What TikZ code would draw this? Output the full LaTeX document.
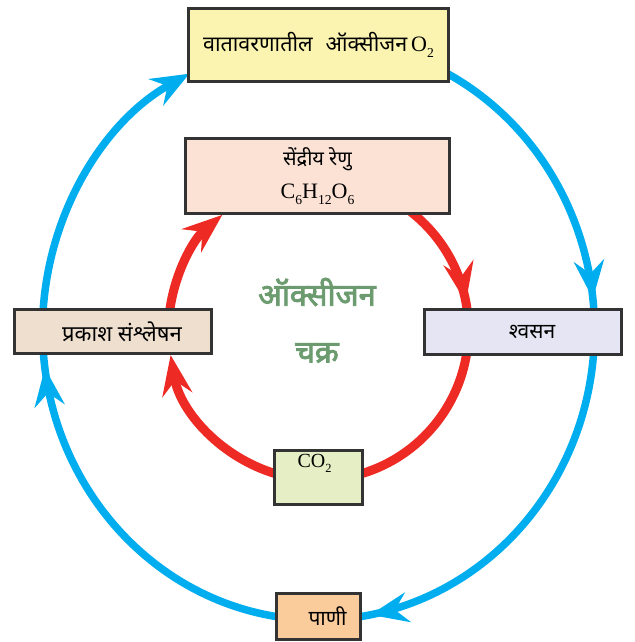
\documentclass[tikz,border=0pt]{standalone}
\usepackage{fontspec}
\usepackage{graphicx}
\setmainfont{Liberation Serif}
\newfontfamily\deva[Script=Devanagari]{Noto Sans}
\newfontfamily\devabold[Script=Devanagari, FakeBold=2.5]{Noto Sans}
\usetikzlibrary{arrows.meta,decorations.markings,backgrounds,calc}
\definecolor{cycblue}{HTML}{00AEEF}
\definecolor{cycred}{HTML}{EE2A24}
\definecolor{boxline}{HTML}{333333}
\definecolor{fillA}{HTML}{FBF4B0}
\definecolor{fillB}{HTML}{FCE1D5}
\definecolor{fillC}{HTML}{EEDFCF}
\definecolor{fillD}{HTML}{E5E5F3}
\definecolor{fillE}{HTML}{E5EEC5}
\definecolor{fillF}{HTML}{FACB9B}
\definecolor{greentxt}{HTML}{6B9B6E}
\newcommand\mysub[1]{\raisebox{-0.25em}{\scalebox{0.62}{#1}}}
\tikzset{
  cycbox/.style={draw=boxline, line width=3pt, inner sep=0pt, text=black},
  blueline/.style={draw=cycblue, line width=7.5pt},
  redline/.style={draw=cycred, line width=9pt},
  bluetip/.tip={Stealth[length=38pt,width=30pt,inset=13pt]},
  redtip/.tip={Stealth[length=40pt,width=30pt,inset=14pt]},
  bluemark/.style={postaction={decorate,decoration={markings,mark=at position #1 with {\arrow[cycblue]{bluetip}}}}},
  redmark/.style={postaction={decorate,decoration={markings,mark=at position #1 with {\arrow[cycred]{redtip}}}}}
}
\begin{document}
\begin{tikzpicture}[x=1pt,y=1pt]
\useasboundingbox (0,0) rectangle (634,642);
% boxes
\node[cycbox, fill=fillA, minimum width=260pt, minimum height=73pt] (air) at (318.5,597)
  {{\deva\fontsize{21.5}{24}\selectfont वातावरणातील\hspace{0.6em}ऑक्सीजन}\hspace{0.4em}{\fontsize{22}{24}\selectfont O\mysub{2}}};
\node[cycbox, fill=fillB, minimum width=264pt, minimum height=75pt, align=center] (org) at (317.5,466)
  {{\deva\fontsize{20}{22}\selectfont सेंद्रीय रेणु}\\[12pt]{\fontsize{22}{24}\selectfont C\mysub{6}H\mysub{12}O\mysub{6}}};
\node[cycbox, fill=fillC, minimum width=197pt, minimum height=44pt] (photo) at (113,310.5)
  {\hspace*{18pt}{\deva\fontsize{22}{24}\selectfont प्रकाश संश्लेषन}};
\node[cycbox, fill=fillD, minimum width=197pt, minimum height=45pt] (resp) at (523,310)
  {\hspace*{18pt}{\deva\fontsize{21}{24}\selectfont श्वसन}};
\node[cycbox, fill=fillE, minimum width=88pt, minimum height=54pt,
  label={[anchor=north, inner sep=0pt, yshift=-5pt, xshift=-4pt]north:{\fontsize{20}{22}\selectfont CO\mysub{2}}}] (co2) at (318.5,164.5) {};
\node[cycbox, fill=fillF, minimum width=84pt, minimum height=46pt] (water) at (318.5,25.5)
  {\hspace*{18pt}{\deva\fontsize{21}{24}\selectfont पाणी}};
% centre title
\node[text=greentxt, font=\devabold\fontsize{31}{34}\selectfont] (title1) at (317,350) {ऑक्सीजन};
\node[text=greentxt, font=\devabold\fontsize{31}{34}\selectfont] (title2) at (317,289) {चक्र};
% connectors
\coordinate (ctr) at (318.5,312);
\coordinate (bA) at ($(ctr)+(177:276pt and 290pt)$);
\coordinate (bB) at ($(ctr)+(62.8:276pt and 290pt)$);
\coordinate (bC) at ($(ctr)+(-3:276pt and 290pt)$);
\coordinate (bD) at ($(ctr)+(263:276pt and 290pt)$);
\coordinate (rA) at ($(ctr)+(173:150pt)$);
\coordinate (rB) at ($(ctr)+(52:150pt)$);
\coordinate (rC) at ($(ctr)+(-8:150pt)$);
\coordinate (rD) at ($(ctr)+(254:150pt)$);
\begin{scope}[on background layer]
\fill[white] (0,0) rectangle (634,642);
% blue cycle
\draw[blueline, -{bluetip}] (bA) arc[start angle=177, end angle=117.9, x radius=276pt, y radius=290pt];
\draw[blueline, bluemark=0.93] (bB) arc[start angle=62.8, end angle=2, x radius=276pt, y radius=290pt];
\draw[blueline, bluemark=0.965] (bC) arc[start angle=-3, end angle=-82, x radius=276pt, y radius=290pt];
\draw[blueline, bluemark=0.93] (bD) arc[start angle=263, end angle=182, x radius=276pt, y radius=290pt];
% red cycle
\draw[redline, -{redtip}] (rA) arc[start angle=173, end angle=129.9, radius=150pt];
\draw[redline, redmark=0.88] (rB) arc[start angle=52, end angle=5, radius=150pt];
\draw[redline] (rC) arc[start angle=-8, end angle=-75, radius=150pt];
\draw[redline, -{redtip}] (rD) arc[start angle=254, end angle=189.6, radius=150pt];
\end{scope}
\end{tikzpicture}
\end{document}
